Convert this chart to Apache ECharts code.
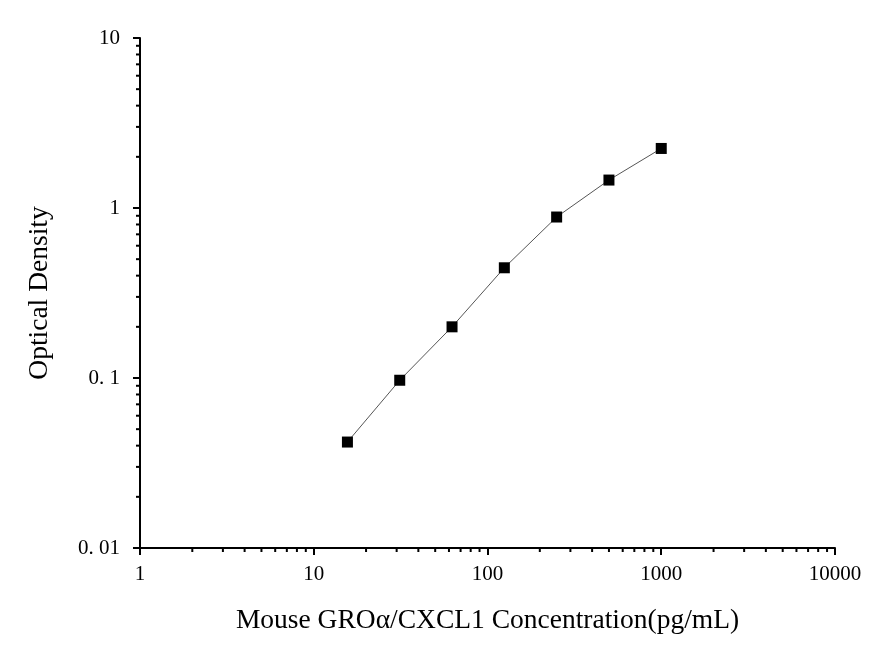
<!DOCTYPE html>
<html>
<head>
    <meta charset="UTF-8">
    <script src="https://cdn.jsdelivr.net/npm/echarts@6/dist/echarts.min.js"></script>
    <style>
        html, body { margin: 0; padding: 0; background: #fff; }
        #main { width: 892px; height: 652px; }
    </style>
</head>
<body>
    <div id="main"></div>
    <script>
        // 标准曲线数据
        var concentration = [15.625, 31.25, 62.5, 125, 250, 500, 1000];
        var od = [0.042, 0.097, 0.2, 0.445, 0.885, 1.46, 2.24];

        var xTitle = 'Mouse GROα/CXCL1 Concentration(pg/mL)';
        var yTitle = 'Optical Density';
        var xLabels = { 1: '1', 10: '10', 100: '100', 1000: '1000', 10000: '10000' };
        var yLabels = { 0.01: '0. 01', 0.1: '0. 1', 1: '1', 10: '10' };

        // 对数轴的次刻度 2..9
        var xMinor = [], yMinor = [];
        [1, 10, 100, 1000].forEach(function (d) {
            for (var k = 2; k <= 9; k++) xMinor.push(k * d);
        });
        [0.01, 0.1, 1].forEach(function (d) {
            for (var k = 2; k <= 9; k++) yMinor.push(+(k * d).toPrecision(3));
        });

        var minorData = xMinor.map(function (v) { return [v, 0.01, 0]; })
            .concat(yMinor.map(function (v) { return [1, v, 1]; }));

        var font = 'Liberation Serif';
        var myChart = echarts.init(document.getElementById('main'));

        var option = {
            animation: false,
            grid: { left: 140, right: 57, top: 38, bottom: 104 },
            xAxis: {
                type: 'log',
                logBase: 10,
                min: 1,
                max: 10000,
                name: xTitle,
                nameLocation: 'middle',
                nameGap: 59,
                nameTextStyle: { fontFamily: font, fontSize: 27.5, color: '#000' },
                axisLine: { lineStyle: { color: '#000', width: 2 } },
                axisTick: { length: 7, lineStyle: { color: '#000', width: 2 } },
                axisLabel: {
                    fontFamily: font, fontSize: 21, color: '#000', margin: 16,
                    formatter: function (v) { return xLabels[Math.round(v)] || v; }
                },
                splitLine: { show: false }
            },
            yAxis: {
                type: 'log',
                logBase: 10,
                min: 0.01,
                max: 10,
                name: yTitle,
                nameLocation: 'middle',
                nameGap: 86,
                nameTextStyle: { fontFamily: font, fontSize: 27.5, color: '#000' },
                axisLine: { lineStyle: { color: '#000', width: 2 } },
                axisTick: { length: 7, lineStyle: { color: '#000', width: 2 } },
                axisLabel: {
                    fontFamily: font, fontSize: 21, color: '#000', margin: 20,
                    padding: [3, 0, 0, 0],
                    formatter: function (v) { return yLabels[+v.toPrecision(3)] || v; }
                },
                splitLine: { show: false }
            },
            series: [
                {
                    type: 'line',
                    data: concentration.map(function (c, i) { return [c, od[i]]; }),
                    symbol: 'rect',
                    symbolSize: 11,
                    itemStyle: { color: '#000' },
                    lineStyle: { color: '#555', width: 1 },
                    z: 3
                },
                {
                    type: 'custom',
                    silent: true,
                    clip: false,
                    data: minorData,
                    renderItem: function (params, api) {
                        var p = api.coord([api.value(0), api.value(1)]);
                        var vertical = api.value(2) === 1;
                        var shape = vertical
                            ? { x1: p[0] - 4, y1: p[1], x2: p[0], y2: p[1] }
                            : { x1: p[0], y1: p[1], x2: p[0], y2: p[1] + 4 };
                        return {
                            type: 'line',
                            shape: shape,
                            style: { stroke: '#000', lineWidth: 2 }
                        };
                    }
                }
            ]
        };
        myChart.setOption(option);
    </script>
</body>
</html>
